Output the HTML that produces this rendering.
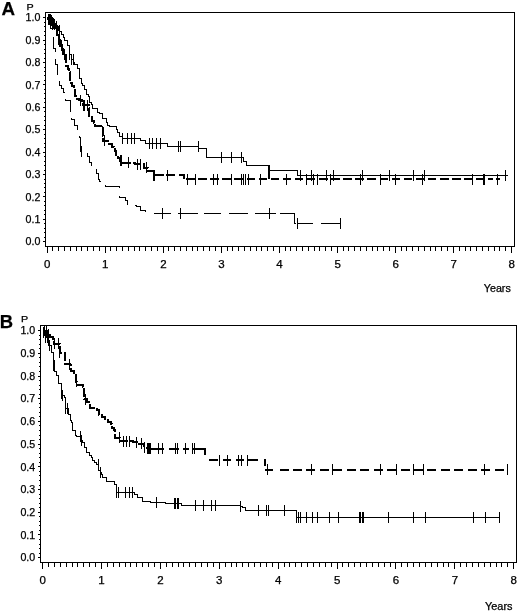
<!DOCTYPE html>
<html><head><meta charset="utf-8"><title>Kaplan-Meier</title>
<style>html,body{margin:0;padding:0;background:#fff}svg{display:block}</style></head>
<body>
<svg width="520" height="615" viewBox="0 0 520 615" shape-rendering="crispEdges">
<rect width="520" height="615" fill="#fff"/>
<rect x="45.5" y="12.5" width="469.0" height="234.0" fill="none" stroke="#000" stroke-width="1"/><path d="M47.0,246.5v6M52.8,246.5v4M58.6,246.5v4M64.4,246.5v4M70.2,246.5v4M76.0,246.5v4M81.8,246.5v4M87.6,246.5v4M93.4,246.5v4M99.2,246.5v4M105.0,246.5v6M110.9,246.5v4M116.7,246.5v4M122.5,246.5v4M128.3,246.5v4M134.1,246.5v4M139.9,246.5v4M145.7,246.5v4M151.5,246.5v4M157.3,246.5v4M163.1,246.5v6M168.9,246.5v4M174.7,246.5v4M180.5,246.5v4M186.3,246.5v4M192.1,246.5v4M197.9,246.5v4M203.7,246.5v4M209.5,246.5v4M215.3,246.5v4M221.2,246.5v6M227.0,246.5v4M232.8,246.5v4M238.6,246.5v4M244.4,246.5v4M250.2,246.5v4M256.0,246.5v4M261.8,246.5v4M267.6,246.5v4M273.4,246.5v4M279.2,246.5v6M285.0,246.5v4M290.8,246.5v4M296.6,246.5v4M302.4,246.5v4M308.2,246.5v4M314.0,246.5v4M319.8,246.5v4M325.6,246.5v4M331.4,246.5v4M337.2,246.5v6M343.1,246.5v4M348.9,246.5v4M354.7,246.5v4M360.5,246.5v4M366.3,246.5v4M372.1,246.5v4M377.9,246.5v4M383.7,246.5v4M389.5,246.5v4M395.3,246.5v6M401.1,246.5v4M406.9,246.5v4M412.7,246.5v4M418.5,246.5v4M424.3,246.5v4M430.1,246.5v4M435.9,246.5v4M441.7,246.5v4M447.5,246.5v4M453.4,246.5v6M459.2,246.5v4M465.0,246.5v4M470.8,246.5v4M476.6,246.5v4M482.4,246.5v4M488.2,246.5v4M494.0,246.5v4M499.8,246.5v4M505.6,246.5v4M511.4,246.5v6M45.5,17.7h-3M45.5,22.2h-1.5M45.5,26.7h-1.5M45.5,31.1h-1.5M45.5,35.6h-1.5M45.5,40.1h-3M45.5,44.6h-1.5M45.5,49.1h-1.5M45.5,53.5h-1.5M45.5,58.0h-1.5M45.5,62.5h-3M45.5,67.0h-1.5M45.5,71.5h-1.5M45.5,75.9h-1.5M45.5,80.4h-1.5M45.5,84.9h-3M45.5,89.4h-1.5M45.5,93.9h-1.5M45.5,98.3h-1.5M45.5,102.8h-1.5M45.5,107.3h-3M45.5,111.8h-1.5M45.5,116.3h-1.5M45.5,120.7h-1.5M45.5,125.2h-1.5M45.5,129.7h-3M45.5,134.2h-1.5M45.5,138.7h-1.5M45.5,143.1h-1.5M45.5,147.6h-1.5M45.5,152.1h-3M45.5,156.6h-1.5M45.5,161.1h-1.5M45.5,165.5h-1.5M45.5,170.0h-1.5M45.5,174.5h-3M45.5,179.0h-1.5M45.5,183.5h-1.5M45.5,187.9h-1.5M45.5,192.4h-1.5M45.5,196.9h-3M45.5,201.4h-1.5M45.5,205.9h-1.5M45.5,210.3h-1.5M45.5,214.8h-1.5M45.5,219.3h-3M45.5,223.8h-1.5M45.5,228.3h-1.5M45.5,232.7h-1.5M45.5,237.2h-1.5M45.5,241.7h-3" stroke="#000" stroke-width="1" fill="none"/>
<path d="M47.0,17.8 L48.5,17.8 L48.5,19.0 L50.5,19.0 L50.5,20.8 L52.6,20.8 L52.6,23.8 L55.5,23.8 L55.5,26.1 L58.5,26.1 L58.5,30.1 L59.4,30.1 L59.4,31.5 L61.3,31.5 L61.3,34.3 L63.2,34.3 L63.2,37.8 L64.3,37.8 L64.3,40.1 L67.0,40.1 L67.0,45.5 L69.3,45.5 L69.3,54.8 L71.1,54.8 L71.1,59.9 L73.2,59.9 L73.2,62.5 L74.4,62.5 L74.4,64.7 L77.0,64.7 L77.0,68.7 L79.4,68.7 L79.4,78.0 L81.1,78.0 L81.1,83.1 L82.4,83.1 L82.4,85.0 L84.5,85.0 L84.5,89.2 L86.3,89.2 L86.3,94.3 L88.6,94.3 L88.6,96.4 L89.4,96.4 L89.4,102.0 L91.5,102.0 L91.5,104.4 L92.5,104.4 L92.5,108.2 L97.9,108.2 L97.9,112.0 L99.4,112.0 L99.4,113.9 L102.5,113.9 L102.5,118.2 L106.4,118.2 L106.4,122.0 L107.7,122.0 L107.7,125.1 L109.5,125.1 L109.5,126.7 L116.4,126.7 L116.4,129.0 L117.5,129.0 L117.5,132.8 L119.5,132.8 L119.5,136.0 L122.6,136.0 L122.6,138.3 L140.0,138.3 L140.0,140.0 L145.0,140.0 L145.0,143.8 L165.0,143.8 L167.5,143.8 L167.5,146.0 L198.8,146.0 L198.8,146.5 L198.8,148.8 L206.0,148.8 L206.0,157.0 L242.5,157.0 L243.8,157.0 L243.8,161.0 L246.0,161.0 L246.0,165.0 L268.8,165.0 L268.8,170.8 L297.0,170.8 L297.0,175.5 L507.5,175.5" fill="none" stroke="#000" stroke-width="1"/>
<path d="M49.0,13.5V24.5M51.0,15.3V26.3M53.0,18.3V29.3M56.0,20.6V31.6M59.0,24.6V35.6M69.5,49.3V60.3M71.5,54.4V65.4M73.0,54.4V65.4M122.6,132.8V143.8M127.2,132.8V143.8M131.0,132.8V143.8M134.0,132.8V143.8M149.0,138.2V149.2M152.5,138.2V149.2M156.0,138.2V149.2M160.0,138.2V149.2M178.8,140.5V151.5M180.5,140.5V151.5M198.0,140.5V151.5M221.0,151.5V162.5M231.0,151.5V162.5M241.0,151.5V162.5M300.5,170.0V181.0M311.0,170.0V181.0M326.0,170.0V181.0M333.0,170.0V181.0M362.5,170.0V181.0M389.5,170.0V181.0M413.8,170.0V181.0M424.5,170.0V181.0M505.8,170.0V181.0" fill="none" stroke="#000" stroke-width="1"/>
<path d="" fill="none" stroke="#000" stroke-width="2"/>
<path d="M47.0,17.8 L48.0,17.8 L48.0,19.0 L50.3,19.0 L50.3,20.7 L51.9,20.7 L51.9,22.1 L53.1,22.1 L53.1,24.3 L55.4,24.3 L55.4,30.0 L57.2,30.0 L57.2,35.0 L58.5,35.0 L58.5,39.7 L60.0,39.7 L60.0,45.5 L61.5,45.5 L61.5,49.2 L63.2,49.2 L63.2,54.8 L65.5,54.8 L65.5,65.6 L67.5,65.6 L67.5,69.3 L68.6,69.3 L68.6,71.8 L70.1,71.8 L70.1,82.6 L71.5,82.6 L71.5,86.4 L73.9,86.4 L73.9,89.6 L74.7,89.6 L74.7,95.8 L77.1,95.8 L77.1,99.0 L79.3,99.0 L79.3,100.4 L81.7,100.4 L81.7,102.2 L83.2,102.2 L83.2,105.0 L88.6,105.0 L88.6,108.2 L89.4,108.2 L89.4,115.9 L91.7,115.9 L91.7,121.3 L94.0,121.3 L94.0,122.7 L94.8,122.7 L94.8,125.9 L101.0,125.9 L101.0,127.5 L102.5,127.5 L102.5,131.3 L103.3,131.3 L103.3,140.6 L107.9,140.6 L107.9,143.7 L111.8,143.7 L111.8,146.8 L113.5,146.8 L113.5,148.7 L115.1,148.7 L115.1,151.2 L116.4,151.2 L116.4,154.5 L117.5,154.5 L117.5,158.1 L120.3,158.1 L120.3,160.7 L122.6,160.7 L122.6,162.5 L135.0,162.5 L135.0,164.0 L143.8,164.0 L143.8,167.5 L147.5,167.5 L147.5,171.2 L153.8,171.2 L153.8,175.0" fill="none" stroke="#000" stroke-width="2" stroke-dasharray="9 2"/>
<path d="M153,175H163.75M166.25,175H175M178.75,175H184V179M186.0,179H194.5M198.1,179H206.6M210.2,179H218.7M222.2,179H230.8M234.3,179H242.8M246.5,179H255.0M258.6,179H267.1M270.6,179H279.1M282.8,179H291.2M294.9,179H303.4M306.9,179H315.4M319.1,179H327.6M331.1,179H339.6M343.2,179H351.8M355.4,179H363.9M367.4,179H375.9M379.6,179H388.1M391.6,179H400.1M403.8,179H412.2M415.9,179H424.4M427.9,179H436.4M440.1,179H448.6M452.1,179H460.6M464.2,179H472.8M476.4,179H484.9M488.4,179H492.5M495.5,179H499.5" fill="none" stroke="#000" stroke-width="2"/>
<path d="M286.0,173.5V184.5M48.0,13.5V24.5M50.0,13.5V24.5M52.0,16.6V27.6M54.5,18.8V29.8M57.0,24.5V35.5M58.5,34.2V45.2M59.5,34.2V45.2M61.0,40.0V51.0M62.5,43.7V54.7M64.0,49.3V60.3M80.9,94.9V105.9M83.2,99.5V110.5M84.7,99.5V110.5M87.0,99.5V110.5M102.5,125.8V136.8M104.0,135.1V146.1M120.3,155.2V166.2M121.8,155.2V166.2M128.8,157.0V168.0M137.5,158.5V169.5M140.0,158.5V169.5M146.2,162.0V173.0M167.0,169.5V180.5M187.0,173.5V184.5M195.0,173.5V184.5M213.8,173.5V184.5M217.5,173.5V184.5M231.0,173.5V184.5M241.0,173.5V184.5M243.0,173.5V184.5M245.0,173.5V184.5M248.0,173.5V184.5M260.8,173.5V184.5M306.0,173.5V184.5M313.8,173.5V184.5M317.5,173.5V184.5M330.0,173.5V184.5M360.0,173.5V184.5M380.0,173.5V184.5M395.5,173.5V184.5M422.5,173.5V184.5M472.0,173.5V184.5M497.5,173.5V184.5" fill="none" stroke="#000" stroke-width="1"/>
<path d="M153.8,169.5V180.5M483.8,173.5V184.5" fill="none" stroke="#000" stroke-width="2"/>
<path d="M47.0,17.8 L49.0,17.8 L49.0,22.0 L50.5,22.0 L50.5,28.0 L52.4,28.0 L52.4,36.3 L53.1,36.3 L53.1,48.6 L55.4,48.6 L55.4,64.0 L57.0,64.0 L57.0,81.0 L59.3,81.0 L59.3,85.0 L61.9,85.0 L61.9,88.1 L63.1,88.1 L63.1,92.7 L65.4,92.7 L65.4,100.4 L70.1,100.4 L70.1,103.5 L70.1,112.8 L71.6,112.8 L71.6,119.0 L74.7,119.0 L74.7,125.2 L77.8,125.2 L77.8,131.3 L79.3,131.3 L79.3,137.5 L80.1,137.5 L80.1,146.8 L81.7,146.8 L81.7,151.4 L87.0,151.4 L87.0,156.0 L89.4,156.0 L89.4,162.8 L91.0,162.8 L91.0,168.4 L96.3,168.4 L96.3,173.0 L98.6,173.0 L98.6,179.5 L99.0,179.5 L99.0,181.0 L105.0,181.0 L105.0,182.5 L105.0,186.0 L117.5,186.0 L119.0,186.0 L119.0,197.5 L125.0,197.5 L125.0,200.0 L127.5,200.0 L127.5,205.0 L136.0,205.0 L136.0,206.0 L140.0,206.0 L140.0,210.0 L145.0,210.0 L145.0,213.8" fill="none" stroke="#000" stroke-width="1" stroke-dasharray="17.5 7.5"/>
<path d="M154,213.75H171M177.5,213.75H197.5M203.75,213.75H221.25M228.75,213.75H247.5M254.5,213.75H276.25M279.5,213.75H294.5M294.5,213.75V223.75H296M297,223.75H312.5M320.5,223.75H340" fill="none" stroke="#000" stroke-width="1"/>
<path d="M268.75,165V179" fill="none" stroke="#000" stroke-width="2"/>
<path d="M80.1,141.3V152.3M81.7,145.9V156.9M162.5,208.2V219.2M180.5,208.2V219.2M269.2,208.2V219.2M297.0,218.2V229.2M340.0,218.2V229.2" fill="none" stroke="#000" stroke-width="1"/>
<rect x="40.5" y="325.5" width="476.0" height="237.0" fill="none" stroke="#000" stroke-width="1"/><path d="M42.5,562.5v6M48.4,562.5v4M54.3,562.5v4M60.2,562.5v4M66.1,562.5v4M72.0,562.5v4M77.8,562.5v4M83.7,562.5v4M89.6,562.5v4M95.5,562.5v4M101.4,562.5v6M107.3,562.5v4M113.2,562.5v4M119.1,562.5v4M125.0,562.5v4M130.8,562.5v4M136.7,562.5v4M142.6,562.5v4M148.5,562.5v4M154.4,562.5v4M160.3,562.5v6M166.2,562.5v4M172.1,562.5v4M178.0,562.5v4M183.9,562.5v4M189.8,562.5v4M195.6,562.5v4M201.5,562.5v4M207.4,562.5v4M213.3,562.5v4M219.2,562.5v6M225.1,562.5v4M231.0,562.5v4M236.9,562.5v4M242.8,562.5v4M248.7,562.5v4M254.5,562.5v4M260.4,562.5v4M266.3,562.5v4M272.2,562.5v4M278.1,562.5v6M284.0,562.5v4M289.9,562.5v4M295.8,562.5v4M301.7,562.5v4M307.6,562.5v4M313.4,562.5v4M319.3,562.5v4M325.2,562.5v4M331.1,562.5v4M337.0,562.5v6M342.9,562.5v4M348.8,562.5v4M354.7,562.5v4M360.6,562.5v4M366.4,562.5v4M372.3,562.5v4M378.2,562.5v4M384.1,562.5v4M390.0,562.5v4M395.9,562.5v6M401.8,562.5v4M407.7,562.5v4M413.6,562.5v4M419.5,562.5v4M425.4,562.5v4M431.2,562.5v4M437.1,562.5v4M443.0,562.5v4M448.9,562.5v4M454.8,562.5v6M460.7,562.5v4M466.6,562.5v4M472.5,562.5v4M478.4,562.5v4M484.2,562.5v4M490.1,562.5v4M496.0,562.5v4M501.9,562.5v4M507.8,562.5v4M513.7,562.5v6M40.5,330.6h-3M40.5,335.1h-1.5M40.5,339.7h-1.5M40.5,344.2h-1.5M40.5,348.8h-1.5M40.5,353.3h-3M40.5,357.8h-1.5M40.5,362.4h-1.5M40.5,366.9h-1.5M40.5,371.5h-1.5M40.5,376.0h-3M40.5,380.5h-1.5M40.5,385.1h-1.5M40.5,389.6h-1.5M40.5,394.2h-1.5M40.5,398.7h-3M40.5,403.2h-1.5M40.5,407.8h-1.5M40.5,412.3h-1.5M40.5,416.9h-1.5M40.5,421.4h-3M40.5,425.9h-1.5M40.5,430.5h-1.5M40.5,435.0h-1.5M40.5,439.6h-1.5M40.5,444.1h-3M40.5,448.6h-1.5M40.5,453.2h-1.5M40.5,457.7h-1.5M40.5,462.3h-1.5M40.5,466.8h-3M40.5,471.3h-1.5M40.5,475.9h-1.5M40.5,480.4h-1.5M40.5,485.0h-1.5M40.5,489.5h-3M40.5,494.0h-1.5M40.5,498.6h-1.5M40.5,503.1h-1.5M40.5,507.7h-1.5M40.5,512.2h-3M40.5,516.7h-1.5M40.5,521.3h-1.5M40.5,525.8h-1.5M40.5,530.4h-1.5M40.5,534.9h-3M40.5,539.4h-1.5M40.5,544.0h-1.5M40.5,548.5h-1.5M40.5,553.1h-1.5M40.5,557.6h-3" stroke="#000" stroke-width="1" fill="none"/>
<path d="M42.5,330.5 L45.0,330.5 L45.0,331.0 L47.5,331.0 L47.5,334.1 L49.6,334.1 L49.6,337.4 L52.7,337.4 L52.7,341.9 L54.2,341.9 L54.2,343.6 L58.8,343.6 L59.6,343.6 L59.6,352.9 L62.7,352.9 L65.0,352.9 L65.0,363.7 L69.7,363.7 L69.7,364.5 L71.2,364.5 L71.2,371.4 L74.3,371.4 L74.3,373.0 L75.8,373.0 L75.8,381.5 L77.4,381.5 L77.4,384.5 L82.8,384.5 L82.8,386.9 L84.3,386.9 L84.3,399.2 L87.4,399.2 L87.4,402.3 L89.7,402.3 L89.7,407.7 L96.7,407.7 L96.7,410.0 L99.0,410.0 L99.0,414.7 L102.0,414.7 L102.0,416.5 L105.0,416.5 L105.0,418.8 L107.9,418.8 L107.9,421.7 L111.0,421.7 L111.0,423.8 L111.8,423.8 L111.8,427.5 L113.8,427.5 L113.8,430.0 L115.0,430.0 L115.0,437.5 L120.0,437.5 L120.0,441.0 L132.5,441.0 L132.5,442.0 L139.0,442.0 L139.0,443.8 L143.9,443.8 L143.9,447.5 L147.5,447.5 L147.5,448.8" fill="none" stroke="#000" stroke-width="2" stroke-dasharray="9 2"/>
<path d="M147.5,448.75H163.75M168.75,448.75H178.75M182.5,448.75H188.75M192.5,448.75H204.5V455M208.75,460H217.5M222.5,460H231.25M236.25,460H243.75M247.5,460H257.5M264.5,459V466M265,469.5H272.5M279.5,469.5H288.5M292.9,469.5H301.9M306.4,469.5H315.4M319.9,469.5H328.9M333.3,469.5H342.3M346.8,469.5H355.8M360.2,469.5H369.2M373.6,469.5H382.6M387.1,469.5H396.1M400.6,469.5H409.6M414.0,469.5H423.0M427.4,469.5H436.4M440.9,469.5H449.9M454.4,469.5H463.4M467.8,469.5H476.8M481.2,469.5H490.2M494.7,469.5H503.7" fill="none" stroke="#000" stroke-width="2"/>
<path d="M44.0,325.0V336.0M46.5,325.5V336.5M48.5,328.6V339.6M54.2,338.1V349.1M58.8,338.1V349.1M59.8,347.4V358.4M69.7,359.0V370.0M76.6,376.0V387.0M85.0,393.7V404.7M119.5,432.0V443.0M123.0,435.5V446.5M126.0,435.5V446.5M129.0,435.5V446.5M136.0,436.5V447.5M141.0,438.2V449.2M144.5,442.0V453.0M158.8,443.2V454.2M162.5,443.2V454.2M175.0,443.2V454.2M177.0,443.2V454.2M185.0,443.2V454.2M192.5,443.2V454.2M194.5,443.2V454.2M219.5,454.5V465.5M227.5,454.5V465.5M238.0,454.5V465.5M241.0,454.5V465.5M247.5,454.5V465.5M267.0,464.0V475.0M311.0,464.0V475.0M332.5,464.0V475.0M380.5,464.0V475.0M396.0,464.0V475.0M413.8,464.0V475.0M423.0,464.0V475.0M484.5,464.0V475.0M507.0,464.0V475.0" fill="none" stroke="#000" stroke-width="1"/>
<path d="M148.0,443.2V454.2M150.0,443.2V454.2" fill="none" stroke="#000" stroke-width="2"/>
<path d="M42.5,330.5 L43.5,330.5 L43.5,332.0 L45.0,332.0 L45.0,337.5 L47.5,337.5 L47.5,340.5 L48.8,340.5 L48.8,345.2 L51.1,345.2 L51.1,352.9 L53.4,352.9 L53.4,365.2 L54.8,365.2 L54.8,371.1 L56.5,371.1 L56.5,375.3 L58.8,375.3 L58.8,383.8 L61.2,383.8 L61.2,393.0 L62.0,393.0 L62.0,395.3 L64.3,395.3 L64.3,397.7 L65.8,397.7 L65.8,408.5 L68.1,408.5 L68.1,414.7 L70.0,414.7 L70.0,420.0 L71.1,420.0 L71.1,422.9 L72.1,422.9 L72.1,430.8 L75.0,430.8 L75.0,435.0 L76.9,435.0 L76.9,436.9 L81.0,436.9 L81.0,440.0 L82.8,440.0 L82.8,442.6 L84.8,442.6 L84.8,447.0 L86.0,447.0 L86.0,452.5 L89.2,452.5 L89.2,455.1 L91.3,455.1 L91.3,457.1 L92.5,457.1 L92.5,460.6 L94.0,460.6 L94.0,462.5 L96.1,462.5 L96.1,464.9 L98.7,464.9 L98.7,470.6 L100.0,470.6 L100.0,472.5 L101.5,472.5 L101.5,474.9 L102.7,474.9 L102.7,477.4 L106.0,477.4 L106.0,481.0 L114.0,481.0 L114.0,484.0 L116.0,484.0 L116.0,492.5 L134.0,492.5 L134.0,494.0 L137.5,494.0 L137.5,497.5 L142.5,497.5 L142.5,501.0 L150.0,501.0 L150.0,502.5 L165.0,502.5 L165.0,503.0 L175.0,503.0 L181.0,503.0 L181.0,505.0 L240.0,505.0 L240.0,506.0 L242.7,506.0 L242.7,507.5 L245.0,507.5 L245.0,510.0 L293.8,510.0 L296.0,510.0 L296.0,517.5 L499.0,517.5" fill="none" stroke="#000" stroke-width="1"/>
<path d="M43.5,326.5V337.5M45.5,332.0V343.0M47.5,332.0V343.0M49.5,339.7V350.7M53.4,359.7V370.7M54.7,359.7V370.7M61.2,387.5V398.5M62.4,389.8V400.8M65.8,403.0V414.0M67.3,403.0V414.0M80.0,431.4V442.4M81.8,434.5V445.5M98.0,459.4V470.4M100.0,467.0V478.0M116.0,487.0V498.0M118.0,487.0V498.0M125.0,487.0V498.0M129.0,487.0V498.0M132.0,487.0V498.0M156.0,497.0V508.0M195.0,499.5V510.5M203.0,499.5V510.5M211.0,499.5V510.5M215.0,499.5V510.5M240.0,500.5V511.5M258.8,504.5V515.5M266.0,504.5V515.5M268.0,504.5V515.5M284.5,504.5V515.5M296.0,512.0V523.0M298.0,512.0V523.0M300.5,512.0V523.0M306.0,512.0V523.0M312.0,512.0V523.0M317.5,512.0V523.0M329.0,512.0V523.0M338.8,512.0V523.0M388.8,512.0V523.0M413.8,512.0V523.0M425.0,512.0V523.0M473.0,512.0V523.0M485.8,512.0V523.0M499.0,512.0V523.0" fill="none" stroke="#000" stroke-width="1"/>
<path d="M175.0,497.5V508.5M177.5,497.5V508.5M359.5,512.0V523.0M362.5,512.0V523.0" fill="none" stroke="#000" stroke-width="2"/>
<g font-family="Liberation Sans, Arial, sans-serif" fill="#000" stroke="#000" stroke-width="0.25">
<text x="1.5" y="15" font-size="18.8" font-weight="bold">A</text>
<text x="-0.2" y="327.6" font-size="18.4" font-weight="bold">B</text>
<text x="26.4" y="9.6" font-size="9" textLength="7.2" lengthAdjust="spacingAndGlyphs">P</text>
<text x="21.1" y="322.3" font-size="9" textLength="7.2" lengthAdjust="spacingAndGlyphs">P</text>
<text x="25.6" y="21.4" font-size="10" textLength="14.8" lengthAdjust="spacingAndGlyphs">1.0</text>
<text x="20.4" y="334.3" font-size="10" textLength="14.8" lengthAdjust="spacingAndGlyphs">1.0</text>
<text x="25.6" y="43.8" font-size="10" textLength="14.8" lengthAdjust="spacingAndGlyphs">0.9</text>
<text x="20.4" y="357.0" font-size="10" textLength="14.8" lengthAdjust="spacingAndGlyphs">0.9</text>
<text x="25.6" y="66.2" font-size="10" textLength="14.8" lengthAdjust="spacingAndGlyphs">0.8</text>
<text x="20.4" y="379.7" font-size="10" textLength="14.8" lengthAdjust="spacingAndGlyphs">0.8</text>
<text x="25.6" y="88.6" font-size="10" textLength="14.8" lengthAdjust="spacingAndGlyphs">0.7</text>
<text x="20.4" y="402.4" font-size="10" textLength="14.8" lengthAdjust="spacingAndGlyphs">0.7</text>
<text x="25.6" y="111.0" font-size="10" textLength="14.8" lengthAdjust="spacingAndGlyphs">0.6</text>
<text x="20.4" y="425.1" font-size="10" textLength="14.8" lengthAdjust="spacingAndGlyphs">0.6</text>
<text x="25.6" y="133.4" font-size="10" textLength="14.8" lengthAdjust="spacingAndGlyphs">0.5</text>
<text x="20.4" y="447.8" font-size="10" textLength="14.8" lengthAdjust="spacingAndGlyphs">0.5</text>
<text x="25.6" y="155.8" font-size="10" textLength="14.8" lengthAdjust="spacingAndGlyphs">0.4</text>
<text x="20.4" y="470.5" font-size="10" textLength="14.8" lengthAdjust="spacingAndGlyphs">0.4</text>
<text x="25.6" y="178.2" font-size="10" textLength="14.8" lengthAdjust="spacingAndGlyphs">0.3</text>
<text x="20.4" y="493.2" font-size="10" textLength="14.8" lengthAdjust="spacingAndGlyphs">0.3</text>
<text x="25.6" y="200.6" font-size="10" textLength="14.8" lengthAdjust="spacingAndGlyphs">0.2</text>
<text x="20.4" y="515.9" font-size="10" textLength="14.8" lengthAdjust="spacingAndGlyphs">0.2</text>
<text x="25.6" y="223.0" font-size="10" textLength="14.8" lengthAdjust="spacingAndGlyphs">0.1</text>
<text x="20.4" y="538.6" font-size="10" textLength="14.8" lengthAdjust="spacingAndGlyphs">0.1</text>
<text x="25.6" y="245.4" font-size="10" textLength="14.8" lengthAdjust="spacingAndGlyphs">0.0</text>
<text x="20.4" y="561.3" font-size="10" textLength="14.8" lengthAdjust="spacingAndGlyphs">0.0</text>
<text x="44.1" y="268.2" font-size="10" textLength="6.4" lengthAdjust="spacingAndGlyphs">0</text>
<text x="39.4" y="584.4" font-size="10" textLength="6.4" lengthAdjust="spacingAndGlyphs">0</text>
<text x="102.1" y="268.2" font-size="10" textLength="6.4" lengthAdjust="spacingAndGlyphs">1</text>
<text x="98.3" y="584.4" font-size="10" textLength="6.4" lengthAdjust="spacingAndGlyphs">1</text>
<text x="160.2" y="268.2" font-size="10" textLength="6.4" lengthAdjust="spacingAndGlyphs">2</text>
<text x="157.2" y="584.4" font-size="10" textLength="6.4" lengthAdjust="spacingAndGlyphs">2</text>
<text x="218.2" y="268.2" font-size="10" textLength="6.4" lengthAdjust="spacingAndGlyphs">3</text>
<text x="216.1" y="584.4" font-size="10" textLength="6.4" lengthAdjust="spacingAndGlyphs">3</text>
<text x="276.3" y="268.2" font-size="10" textLength="6.4" lengthAdjust="spacingAndGlyphs">4</text>
<text x="275.0" y="584.4" font-size="10" textLength="6.4" lengthAdjust="spacingAndGlyphs">4</text>
<text x="334.4" y="268.2" font-size="10" textLength="6.4" lengthAdjust="spacingAndGlyphs">5</text>
<text x="333.9" y="584.4" font-size="10" textLength="6.4" lengthAdjust="spacingAndGlyphs">5</text>
<text x="392.4" y="268.2" font-size="10" textLength="6.4" lengthAdjust="spacingAndGlyphs">6</text>
<text x="392.8" y="584.4" font-size="10" textLength="6.4" lengthAdjust="spacingAndGlyphs">6</text>
<text x="450.4" y="268.2" font-size="10" textLength="6.4" lengthAdjust="spacingAndGlyphs">7</text>
<text x="451.7" y="584.4" font-size="10" textLength="6.4" lengthAdjust="spacingAndGlyphs">7</text>
<text x="508.5" y="268.2" font-size="10" textLength="6.4" lengthAdjust="spacingAndGlyphs">8</text>
<text x="510.6" y="584.4" font-size="10" textLength="6.4" lengthAdjust="spacingAndGlyphs">8</text>
<text x="483.8" y="292" font-size="10" textLength="27" lengthAdjust="spacingAndGlyphs">Years</text>
<text x="485" y="609.8" font-size="10" textLength="27.5" lengthAdjust="spacingAndGlyphs">Years</text>
</g>
</svg>
</body></html>
